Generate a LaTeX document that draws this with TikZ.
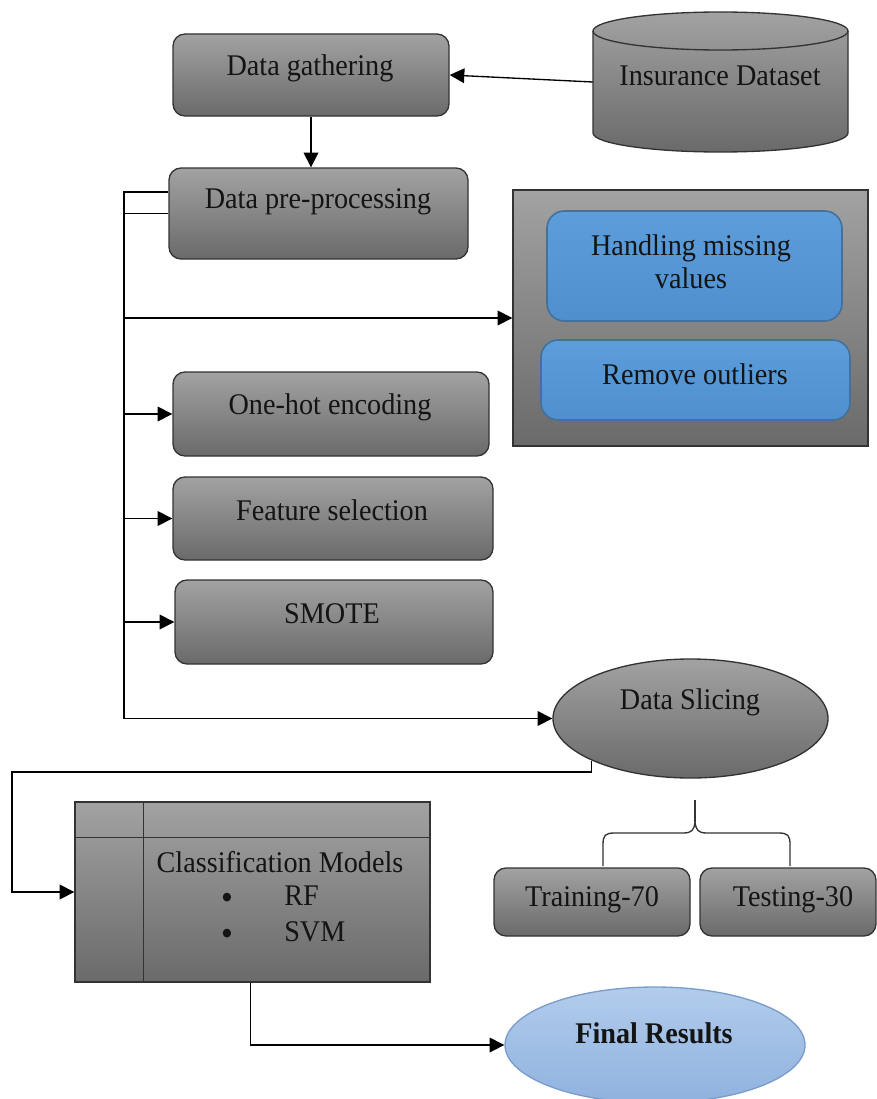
\documentclass[tikz,border=0pt]{standalone}
\usepackage{fontspec}
\setmainfont{Liberation Serif}[FakeStretch=0.94]
\usetikzlibrary{arrows.meta,calc,shapes.geometric}
\definecolor{gtop}{HTML}{A2A2A2}
\definecolor{gbot}{HTML}{6A6A6A}
\definecolor{edge}{HTML}{333333}
\definecolor{btop}{HTML}{5C9DDA}
\definecolor{bbot}{HTML}{4F8FCE}
\definecolor{bedge}{HTML}{41719C}
\definecolor{ftop}{HTML}{B2CCEC}
\definecolor{fbot}{HTML}{8FB2DE}
\definecolor{fedge}{HTML}{7A9CCB}
\definecolor{txt}{HTML}{141414}
\begin{document}
\begin{tikzpicture}[x=0.75pt,y=-0.75pt,
  font=\fontsize{22.5}{24.75}\selectfont,
  sz/.style 2 args={minimum width=#1*0.75pt, minimum height=#2*0.75pt},
  graybox/.style={draw=edge, line width=1pt, rounded corners=9pt, top color=gtop, bottom color=gbot, inner sep=0pt},
  sharpbox/.style={draw=edge, line width=1pt, top color=gtop, bottom color=gbot, inner sep=0pt},
  bluebox/.style={draw=bedge, line width=1.2pt, rounded corners=13pt, top color=btop, bottom color=bbot, inner sep=0pt},
  grayell/.style={ellipse, draw=edge, line width=1pt, top color=gtop, bottom color=gbot, inner sep=0pt},
  blueell/.style={ellipse, draw=fedge, line width=1pt, top color=ftop, bottom color=fbot, inner sep=0pt},
  lbl/.style={text=txt, inner sep=0pt, align=center},
  bul/.style={text=txt, inner sep=0pt, text height=12pt, text depth=0pt, font=\fontsize{27}{27}\selectfont},
  conn/.style={line width=1pt, draw=black},
  arr/.style={conn, -{Triangle[length=11pt,width=11pt]}}
]
\useasboundingbox (0,0) rectangle (877,1099);

% boxes
\node[graybox, sz={276}{82}] (dg) at (311,75) {};
\node[inner sep=0pt, sz={255}{140}] (ins) at (720.5,82) {};
\path[draw=edge, line width=1pt, top color=gtop, bottom color=gbot]
  (593,31) -- (593,133) arc[start angle=180, end angle=360, x radius=95.625pt, y radius=14.25pt]
  -- (848,31) arc[start angle=0, end angle=180, x radius=95.625pt, y radius=14.25pt] -- cycle;
\draw[edge, line width=1pt] (593,31) arc[start angle=180, end angle=360, x radius=95.625pt, y radius=14.25pt];

\node[graybox, sz={299}{91}] (pp) at (318.5,213.5) {};
\node[sharpbox, sz={355}{256}] (grp) at (690.5,318) {};
\node[bluebox, sz={295}{110}] (hm) at (694.5,266) {};
\node[bluebox, sz={309}{80}] (ro) at (695.5,380) {};
\node[graybox, sz={316}{84}] (oh) at (331,414) {};
\node[graybox, sz={320}{83}] (fs) at (333,518.5) {};
\node[graybox, sz={318}{84}] (sm) at (334,622) {};
\node[grayell, sz={275}{119}] (ds) at (690.5,718.5) {};
\node[sharpbox, sz={355}{180}] (clf) at (252.5,892) {};
\draw[edge, line width=1pt] ($(clf.north west)+(69,0)$) -- ($(clf.south west)+(69,0)$);
\draw[edge, line width=1pt] ($(clf.north west)+(0,36)$) -- ($(clf.north east)+(0,36)$);
\node[graybox, sz={196}{68}] (tr) at (592,902) {};
\node[graybox, sz={176}{68}] (te) at (788,902) {};
\node[blueell, sz={300}{116}] (fr) at (655,1045) {};

% brace
\draw[line width=1pt, draw=edge]
  (603,866) -- (603,845) .. controls (603,835) and (605,833) .. (615,833) -- (683,833)
  .. controls (692,833) and (694,830) .. (695,822)
  .. controls (696,830) and (698,833) .. (707,833) -- (778,833)
  .. controls (788,833) and (790,835) .. (790,845) -- (790,866);
\draw[line width=1pt, draw=edge] (695,822) -- (695,800);

% labels
\node[lbl] (l-dg) at (310,68) {Data gathering};
\node[lbl] (l-ins) at (720,76) {Insurance Dataset};
\node[lbl] (l-pp) at (318,202) {Data pre-processing};
\node[lbl] (l-hm) at (691,262) {Handling missing\\values};
\node[lbl] (l-ro) at (695,374) {Remove outliers};
\node[lbl] (l-oh) at (330,407) {One-hot encoding};
\node[lbl] (l-fs) at (332,510) {Feature selection};
\node[lbl] (l-sm) at (332,614) {SMOTE};
\node[lbl] (l-ds) at (690,702) {Data Slicing};
\node[lbl] (l-clf) at (280,862) {Classification Models};
\node[bul] (b1) at (227,901) {\textbullet};
\node[bul] (b2) at (227,937) {\textbullet};
\node[lbl, anchor=west] (l-rf) at (284,896) {RF};
\node[lbl, anchor=west] (l-svm) at (284,932) {SVM};
\node[lbl] (l-tr) at (592,900) {Training-70};
\node[lbl] (l-te) at (793,900) {Testing-30};
\node[lbl, font=\fontsize{22.5}{24.75}\selectfont\bfseries] (l-fr) at (654,1033) {Final Results};

% connectors
\draw[arr] (ins.west) -- (dg.east);
\draw[arr] (dg.south) -- (dg.south |- pp.north);
\coordinate (bt) at (124,192);
\draw[conn] ($(pp.west)+(0,-21.5)$) -- (bt) -- (bt |- ds.west);
\draw[conn] (pp.west) -- (bt |- pp.west);
\draw[arr] (bt |- grp.west) -- (grp.west);
\draw[arr] (bt |- oh.west) -- (oh.west);
\draw[arr] (bt |- fs.west) -- (fs.west);
\draw[arr] (bt |- sm.west) -- (sm.west);
\draw[arr] (bt |- ds.west) -- (ds.west);
\coordinate (lx) at (12,772);
\draw[arr] (ds.203) |- (lx) |- (clf.west);
\draw[arr] ($(clf.south west)+(176,0)$) |- (fr.west);
\end{tikzpicture}
\end{document}
